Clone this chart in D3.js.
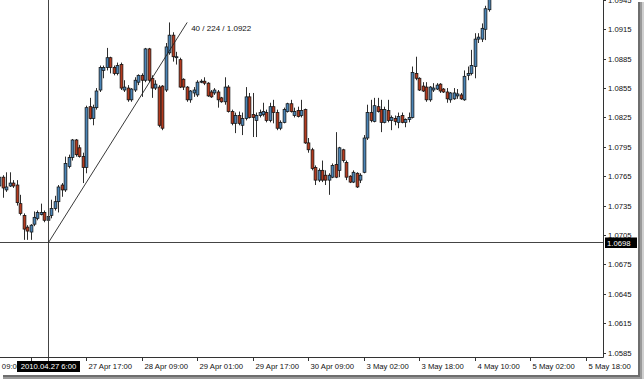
<!DOCTYPE html>
<html>
<head>
<meta charset="utf-8">
<script src="https://cdn.jsdelivr.net/npm/d3@7"></script>
<style>
html,body{margin:0;padding:0;background:#fff;}
svg{display:block;}
text{font-family:"Liberation Sans",Arial,sans-serif;}
</style>
</head>
<body>
<svg id="c" width="644" height="379"></svg>
<script>
// ---- data: EURUSD H1 candles (open, high, low, close), one per bar ----
const open  = [1.0755,1.0764,1.0751,1.0755,1.0758,1.0756,1.0737,1.0725,1.0713,1.0708,1.0716,1.0722,1.0726,1.0728,1.0720,1.0725,1.0732,1.0739,1.0756,1.0751,
               1.0775,1.0784,1.0802,1.0794,1.0785,1.0774,1.0836,1.0824,1.0835,1.0853,1.0873,1.0876,1.0886,1.0876,1.0870,1.0879,1.0853,1.0855,1.0843,1.0853,
               1.0861,1.0868,1.0863,1.0895,1.0865,1.0855,1.0856,1.0857,1.0853,1.0891,1.0909,1.0886,1.0884,1.0864,1.0856,1.0843,1.0850,1.0848,1.0861,1.0862,
               1.0860,1.0851,1.0850,1.0851,1.0845,1.0841,1.0856,1.0831,1.0819,1.0827,1.0817,1.0824,1.0846,1.0828,1.0822,1.0827,1.0828,1.0830,1.0822,1.0836,
               1.0830,1.0814,1.0820,1.0831,1.0839,1.0827,1.0832,1.0827,1.0833,1.0799,1.0792,1.0774,1.0761,1.0771,1.0766,1.0761,1.0764,1.0777,1.0771,1.0792,
               1.0779,1.0765,1.0759,1.0768,1.0761,1.0769,1.0804,1.0830,1.0821,1.0836,1.0833,1.0820,1.0832,1.0822,1.0824,1.0820,1.0827,1.0820,1.0823,1.0825,
               1.0870,1.0865,1.0857,1.0856,1.0843,1.0853,1.0854,1.0859,1.0854,1.0851,1.0843,1.0844,1.0847,1.0848,1.0843,1.0868,1.0870,1.0877,1.0905,1.0905,
               1.0915,1.0935];
const high  = [1.0769,1.0766,1.0769,1.0769,1.0761,1.0761,1.0746,1.0727,1.0715,1.0716,1.0729,1.0730,1.0737,1.0730,1.0726,1.0741,1.0745,1.0756,1.0758,1.0785,
               1.0787,1.0803,1.0803,1.0797,1.0789,1.0837,1.0845,1.0838,1.0855,1.0878,1.0878,1.0896,1.0887,1.0878,1.0881,1.0881,1.0863,1.0858,1.0855,1.0866,
               1.0869,1.0870,1.0896,1.0896,1.0868,1.0863,1.0858,1.0858,1.0901,1.0922,1.0912,1.0892,1.0886,1.0865,1.0857,1.0853,1.0856,1.0863,1.0864,1.0866,
               1.0861,1.0853,1.0855,1.0853,1.0846,1.0866,1.0858,1.0833,1.0830,1.0831,1.0830,1.0856,1.0850,1.0850,1.0830,1.0833,1.0840,1.0833,1.0840,1.0843,
               1.0833,1.0822,1.0835,1.0840,1.0843,1.0835,1.0836,1.0843,1.0834,1.0804,1.0794,1.0776,1.0773,1.0781,1.0771,1.0768,1.0778,1.0810,1.0795,1.0793,
               1.0781,1.0766,1.0771,1.0769,1.0768,1.0807,1.0838,1.0843,1.0845,1.0845,1.0843,1.0836,1.0843,1.0827,1.0827,1.0830,1.0830,1.0824,1.0830,1.0877,
               1.0887,1.0866,1.0861,1.0861,1.0857,1.0860,1.0860,1.0860,1.0855,1.0855,1.0851,1.0855,1.0854,1.0850,1.0873,1.0877,1.0894,1.0911,1.0911,1.0921,
               1.0939,1.0953];
const low   = [1.0751,1.0743,1.0749,1.0754,1.0753,1.0735,1.0725,1.0700,1.0700,1.0700,1.0714,1.0720,1.0725,1.0718,1.0718,1.0722,1.0730,1.0728,1.0744,1.0749,
               1.0773,1.0781,1.0785,1.0784,1.0758,1.0768,1.0823,1.0817,1.0833,1.0851,1.0865,1.0873,1.0870,1.0868,1.0868,1.0853,1.0851,1.0841,1.0841,1.0851,
               1.0858,1.0846,1.0861,1.0861,1.0845,1.0853,1.0815,1.0812,1.0851,1.0889,1.0882,1.0879,1.0855,1.0853,1.0841,1.0840,1.0846,1.0846,1.0860,1.0858,
               1.0846,1.0845,1.0848,1.0835,1.0840,1.0838,1.0830,1.0817,1.0809,1.0817,1.0807,1.0822,1.0824,1.0805,1.0805,1.0825,1.0826,1.0820,1.0820,1.0819,
               1.0812,1.0812,1.0819,1.0830,1.0830,1.0825,1.0825,1.0825,1.0798,1.0789,1.0771,1.0756,1.0759,1.0759,1.0756,1.0746,1.0763,1.0763,1.0764,1.0779,
               1.0761,1.0758,1.0758,1.0753,1.0758,1.0768,1.0802,1.0820,1.0820,1.0830,1.0810,1.0819,1.0820,1.0812,1.0817,1.0814,1.0819,1.0815,1.0820,1.0824,
               1.0863,1.0852,1.0851,1.0841,1.0841,1.0851,1.0853,1.0850,1.0850,1.0840,1.0840,1.0843,1.0844,1.0843,1.0842,1.0863,1.0868,1.0865,1.0901,1.0902,
               1.0904,1.0933];
const close = [1.0764,1.0753,1.0754,1.0758,1.0755,1.0738,1.0727,1.0711,1.0709,1.0715,1.0723,1.0728,1.0728,1.0720,1.0724,1.0732,1.0739,1.0754,1.0751,1.0778,
               1.0784,1.0802,1.0787,1.0785,1.0774,1.0835,1.0824,1.0835,1.0852,1.0876,1.0876,1.0886,1.0876,1.0870,1.0878,1.0855,1.0856,1.0843,1.0854,1.0863,
               1.0868,1.0863,1.0895,1.0863,1.0855,1.0859,1.0817,1.0814,1.0897,1.0909,1.0887,1.0887,1.0856,1.0856,1.0843,1.0852,1.0853,1.0861,1.0862,1.0860,
               1.0847,1.0846,1.0853,1.0843,1.0841,1.0856,1.0831,1.0819,1.0827,1.0819,1.0824,1.0846,1.0825,1.0825,1.0827,1.0830,1.0831,1.0822,1.0836,1.0830,
               1.0814,1.0820,1.0833,1.0839,1.0831,1.0831,1.0826,1.0832,1.0799,1.0792,1.0773,1.0761,1.0771,1.0761,1.0761,1.0766,1.0776,1.0764,1.0794,1.0781,
               1.0764,1.0759,1.0769,1.0754,1.0766,1.0804,1.0830,1.0822,1.0837,1.0831,1.0820,1.0833,1.0822,1.0825,1.0821,1.0826,1.0820,1.0823,1.0825,1.0871,
               1.0865,1.0853,1.0852,1.0843,1.0856,1.0855,1.0858,1.0852,1.0851,1.0844,1.0850,1.0850,1.0849,1.0844,1.0867,1.0870,1.0878,1.0905,1.0907,1.0916,
               1.0936,1.0948];

// price axis labels
const priceTicks = [1.0945,1.0915,1.0885,1.0855,1.0825,1.0795,1.0765,1.0735,1.0705,1.0675,1.0645,1.0615,1.0585];
// time axis: bar index of each tick and its label (the 27 Apr 01:00 label sits under the crosshair time box)
const timeTickBars   = [-7, 9, 25, 41, 57, 73, 89, 105, 121, 137, 153, 169];
const timeTickLabels = ["26 Apr 09:00","","27 Apr 17:00","28 Apr 09:00","29 Apr 01:00","29 Apr 17:00",
                        "30 Apr 09:00","3 May 02:00","3 May 18:00","4 May 10:00","5 May 02:00","5 May 18:00"];
// crosshair
const crossBar = 14, crossPrice = 1.0698, crossLabel = "2010.04.27 6:00";
const measureBars = 40, measurePips = 224, measurePrice = 1.0922;

// ---- layout ----
const plotR = 603, plotB = 357;
const svg = d3.select("#c");
const x = d3.scaleLinear().domain([0, 160]).range([-0.2, 555]);
const y = d3.scaleLinear().domain([1.0585, 1.0915]).range([352.5, 29.3]);

const blue = "#4a84b6", red = "#b33a1e";

svg.append("clipPath").attr("id","pc").append("rect").attr("x",0).attr("y",0).attr("width",plotR).attr("height",plotB);
const g = svg.append("g").attr("clip-path","url(#pc)");

const bars = d3.range(open.length);
const cx = i => Math.floor(x(i)) + 0.5;

// wicks
g.selectAll("line.w").data(bars).join("line")
  .attr("x1", cx).attr("x2", cx)
  .attr("y1", i => y(high[i])).attr("y2", i => y(low[i]))
  .attr("stroke", "#2e2e2e").attr("stroke-width", 1);

// bodies
g.selectAll("rect.b").data(bars).join("rect")
  .attr("x", i => cx(i) - 1.4)
  .attr("width", 2.8)
  .attr("y", i => y(Math.max(open[i], close[i])))
  .attr("height", i => Math.max(1, Math.abs(y(open[i]) - y(close[i]))))
  .attr("fill", i => close[i] >= open[i] ? blue : red)
  .attr("stroke", "#121212").attr("stroke-width", 0.75);

// crosshair lines
const cxh = Math.floor(x(crossBar)) + 0.5;
const cyh = Math.round(y(crossPrice)) + 0.5;
svg.append("line").attr("x1",0).attr("x2",plotR).attr("y1",cyh).attr("y2",cyh).attr("stroke","#444").attr("stroke-width",1);
svg.append("line").attr("x1",cxh).attr("x2",cxh).attr("y1",0).attr("y2",plotB+4).attr("stroke","#444").attr("stroke-width",1);

// measurement line to cursor
const mx = x(crossBar + measureBars), my = y(measurePrice);
svg.append("line").attr("x1",cxh).attr("y1",cyh).attr("x2",mx).attr("y2",my)
  .attr("stroke","#222").attr("stroke-width",0.9);
svg.append("text").attr("x", mx + 4).attr("y", my + 9)
  .attr("font-size", "8px").attr("fill","#111")
  .text(`${measureBars} / ${measurePips} / ${measurePrice.toFixed(4)}`);

// axes lines
svg.append("line").attr("x1",plotR+0.5).attr("x2",plotR+0.5).attr("y1",0).attr("y2",plotB+0.5).attr("stroke","#333");
svg.append("line").attr("x1",0).attr("x2",plotR+0.5).attr("y1",plotB+0.5).attr("y2",plotB+0.5).attr("stroke","#333");

// right price axis
const ra = svg.append("g");
priceTicks.forEach(p => {
  const yy = Math.round(y(p)) + 0.5;
  ra.append("line").attr("x1",plotR).attr("x2",plotR+3).attr("y1",yy).attr("y2",yy).attr("stroke","#333");
  ra.append("text").attr("x",plotR+5).attr("y",yy+2.8).attr("font-size","7.7px").attr("fill","#111").text(p.toFixed(4));
});
ra.append("rect").attr("x",plotR+2).attr("y",cyh-5).attr("width",32).attr("height",10.5).attr("fill","#000");
ra.append("text").attr("x",plotR+4).attr("y",cyh+3).attr("font-size","7.7px").attr("fill","#fff").text(crossPrice.toFixed(4));

// bottom time axis
const ba = svg.append("g");
timeTickBars.forEach((b, k) => {
  const xx = Math.floor(x(b)) + 0.5;
  ba.append("line").attr("x1",xx).attr("x2",xx).attr("y1",plotB).attr("y2",plotB+4).attr("stroke","#333");
  if (timeTickLabels[k]) ba.append("text").attr("x",xx+2).attr("y",plotB+12).attr("font-size","7.7px").attr("fill","#111").text(timeTickLabels[k]);
});
ba.append("rect").attr("x",cxh-31.5).attr("y",plotB+4).attr("width",63).attr("height",11).attr("fill","#000");
ba.append("text").attr("x",cxh).attr("y",plotB+12).attr("text-anchor","middle").attr("font-size","7.7px").attr("fill","#fff").text(crossLabel);

// window drop shadow (right and bottom)
[["#6e6e6e",638],["#9a9a9a",640],["#cfcfcf",642]].forEach(([c, xx]) => {
  svg.append("rect").attr("x",xx).attr("y",2).attr("width",2).attr("height",377).attr("fill",c);
});
[["#6e6e6e",375],["#9a9a9a",377]].forEach(([c, yy]) => {
  svg.append("rect").attr("x",3).attr("y",yy).attr("width",637).attr("height",2).attr("fill",c);
});
</script>
</body>
</html>
